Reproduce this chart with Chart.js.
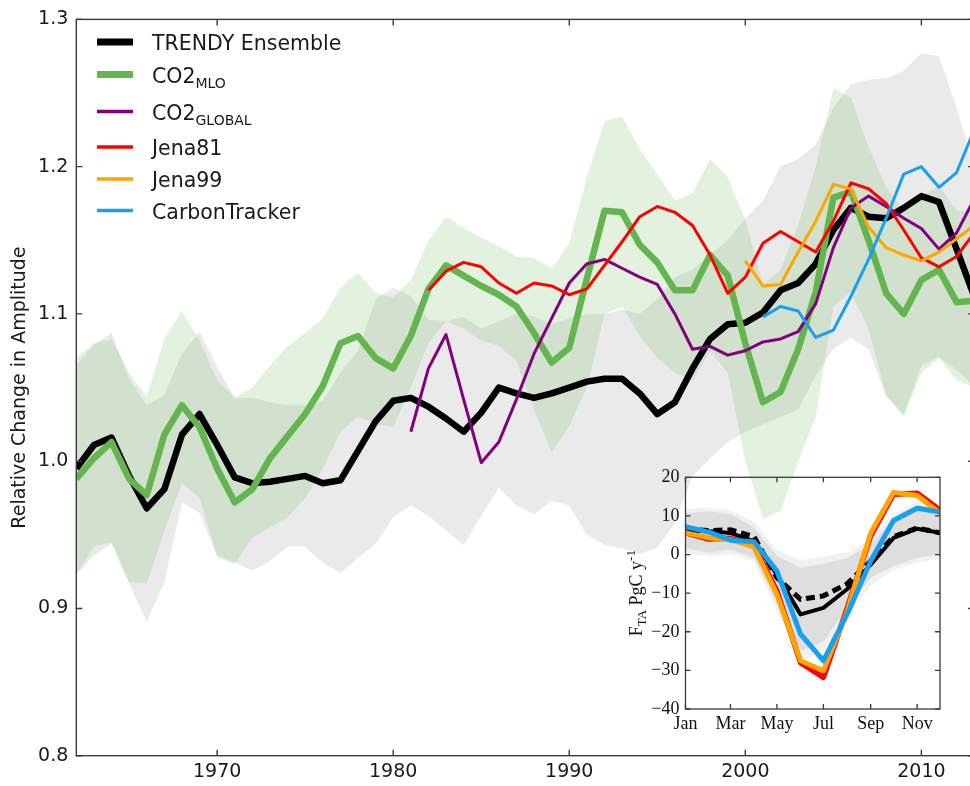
<!DOCTYPE html>
<html>
<head>
<meta charset="utf-8">
<script src="https://cdn.jsdelivr.net/npm/chart.js@4.4.1/dist/chart.umd.min.js"></script>
<style>
  html, body { margin: 0; padding: 0; background: #fff; overflow: hidden; width: 970px; height: 786px; }
  #main { position: absolute; left: 0; top: 0; }
  #inset { position: absolute; left: 600px; top: 455px; }
</style>
</head>
<body>
<canvas id="main" width="980" height="786"></canvas>
<canvas id="inset" width="360" height="300"></canvas>
<script>
// ---------------- Annual amplitude series ----------------
const years = [1962,1963,1964,1965,1966,1967,1968,1969,1970,1971,1972,1973,1974,1975,1976,1977,1978,1979,1980,1981,
  1982,1983,1984,1985,1986,1987,1988,1989,1990,1991,1992,1993,1994,1995,1996,1997,1998,1999,2000,2001,
  2002,2003,2004,2005,2006,2007,2008,2009,2010,2011,2012,2013];

const trendy = [0.995,1.011,1.016,0.990,0.968,0.981,1.018,1.032,1.011,0.989,0.985,0.986,0.988,0.990,0.985,0.987,1.007,1.027,1.041,1.043,
  1.037,1.029,1.020,1.033,1.050,1.046,1.043,1.046,1.050,1.054,1.056,1.056,1.046,1.032,1.040,1.063,1.083,1.093,1.094,1.101,
  1.116,1.121,1.134,1.157,1.172,1.166,1.165,1.172,1.180,1.176,1.144,1.112];
const trendyHigh = [1.065,1.079,1.087,1.056,1.038,1.045,1.073,1.088,1.064,1.043,1.043,1.040,1.038,1.038,1.041,1.060,1.075,1.110,1.118,1.112,
  1.096,1.095,1.098,1.090,1.095,1.100,1.098,1.093,1.097,1.100,1.100,1.103,1.100,1.110,1.125,1.130,1.140,1.150,1.165,1.177,
  1.200,1.205,1.215,1.240,1.256,1.259,1.260,1.265,1.277,1.275,1.240,1.200];
const trendyLow = [0.923,0.936,0.944,0.917,0.891,0.918,0.972,0.965,0.936,0.931,0.926,0.932,0.942,0.942,0.931,0.924,0.934,0.944,0.962,0.970,
  0.963,0.953,0.943,0.963,0.982,0.970,0.964,0.973,0.970,0.950,0.943,0.941,0.937,0.941,0.958,0.990,1.002,1.013,1.020,1.025,
  1.030,1.035,1.058,1.076,1.084,1.076,1.044,1.032,1.065,1.071,1.062,1.051];

const co2Mlo = [0.988,1.002,1.013,0.988,0.977,1.018,1.038,1.023,0.995,0.972,0.981,1.002,1.017,1.032,1.051,1.080,1.085,1.070,1.063,1.085,
  1.117,1.133,1.126,1.119,1.113,1.105,1.087,1.067,1.077,1.124,1.170,1.169,1.147,1.135,1.116,1.116,1.140,1.126,1.080,1.040,
  1.047,1.076,1.115,1.179,1.183,1.150,1.114,1.100,1.123,1.130,1.108,1.109];
const co2MloHigh = [1.070,1.080,1.083,1.060,1.044,1.083,1.102,1.082,1.055,1.043,1.050,1.065,1.078,1.087,1.097,1.118,1.128,1.114,1.111,1.123,
  1.150,1.166,1.158,1.152,1.146,1.139,1.138,1.131,1.148,1.193,1.231,1.234,1.212,1.195,1.177,1.182,1.205,1.193,1.164,1.120,
  1.130,1.160,1.200,1.253,1.247,1.213,1.186,1.170,1.180,1.187,1.170,1.170];
const co2MloLow = [0.923,0.942,0.945,0.918,0.917,0.953,0.985,0.975,0.935,0.930,0.948,0.955,0.962,0.975,0.995,1.020,1.030,1.025,1.023,1.050,
  1.080,1.095,1.090,1.082,1.078,1.068,1.035,1.006,1.024,1.050,1.100,1.105,1.085,1.070,1.060,1.055,1.075,1.060,1.000,0.961,
  0.966,1.000,1.030,1.105,1.115,1.090,1.045,1.030,1.060,1.070,1.055,1.050];

const globalYears = [1981,1982,1983,1984,1985,1986,1987,1988,1989,1990,1991,1992,1993,1994,1995,1996,1997,1998,1999,2000,
  2001,2002,2003,2004,2005,2006,2007,2008,2009,2010,2011,2012,2013];
const co2Global = [1.020,1.063,1.086,1.042,0.999,1.013,1.042,1.073,1.097,1.121,1.134,1.137,1.131,1.125,1.120,1.100,1.076,1.078,1.072,1.075,
  1.081,1.083,1.088,1.107,1.145,1.172,1.180,1.173,1.165,1.158,1.144,1.155,1.178];

const jena81Years = [1982,1983,1984,1985,1986,1987,1988,1989,1990,1991,1992,1993,1994,1995,1996,1997,1998,1999,2000,2001,
  2002,2003,2004,2005,2006,2007,2008,2009,2010,2011,2012,2013];
const jena81 = [1.116,1.129,1.135,1.132,1.121,1.114,1.121,1.119,1.113,1.117,1.133,1.149,1.166,1.173,1.169,1.160,1.140,1.114,1.125,1.148,
  1.156,1.149,1.142,1.163,1.189,1.185,1.175,1.157,1.138,1.132,1.139,1.155];

const jena99Years = [2000,2001,2002,2003,2004,2005,2006,2007,2008,2009,2010,2011,2012,2013];
const jena99 = [1.136,1.119,1.120,1.142,1.163,1.188,1.185,1.159,1.145,1.140,1.136,1.142,1.151,1.160];

const ctYears = [2001,2002,2003,2004,2005,2006,2007,2008,2009,2010,2011,2012,2013];
const carbonTracker = [1.098,1.105,1.102,1.084,1.089,1.112,1.137,1.165,1.195,1.200,1.186,1.196,1.225];

const yearTicks = [1970, 1980, 1990, 2000, 2010];
const amplitudeTicks = [0.8, 0.9, 1.0, 1.1, 1.2, 1.3];

// Legend entries: label, subscript
const legendLabels = ['TRENDY Ensemble', 'CO2', 'CO2', 'Jena81', 'Jena99', 'CarbonTracker'];
const legendSubs = ['', 'MLO', 'GLOBAL', '', '', ''];

// ---------------- Monthly flux inset ----------------
const monthDays = [0, 31, 59, 90, 120, 151, 181, 212, 243, 273, 304, 334];
const monthTickDays = [0, 59, 120, 181, 243, 304];
const monthTickLabels = ['Jan', 'Mar', 'May', 'Jul', 'Sep', 'Nov'];
const fluxTicks = [-40, -30, -20, -10, 0, 10, 20];

const fluxTrendy = [6.2, 6.0, 5.6, 3.4, -5.2, -15.5, -13.8, -9.0, -2.6, 4.3, 6.7, 5.6];
const fluxTrendyAlt = [6.6, 6.2, 6.4, 4.6, -6.0, -11.6, -10.7, -7.6, -1.7, 4.6, 6.9, 5.6];
const fluxJena81 = [5.6, 4.0, 4.2, 2.2, -9.5, -28.0, -31.8, -14.0, 4.8, 15.6, 15.9, 11.5];
const fluxJena99 = [5.6, 4.3, 3.9, 1.9, -10.3, -27.5, -30.1, -14.8, 5.6, 16.1, 15.3, 10.7];
const fluxCT = [7.2, 5.8, 3.7, 3.3, -4.3, -20.6, -27.5, -15.5, -1.7, 8.8, 12.0, 11.0];
const fluxSpreadHigh = [10.7, 11.2, 10.5, 7.0, -0.4, -3.4, -2.4, -0.9, 2.6, 9.4, 12.9, 11.6];
const fluxSpreadLow = [1.7, 0.4, 1.3, -0.9, -12.9, -25.0, -22.5, -14.0, -6.0, -3.0, -0.9, 0.0];
const fluxRangeHigh = [11.8, 12.2, 11.4, 8.5, 1.2, -1.5, -0.5, 0.5, 3.8, 10.4, 13.6, 12.6];
const fluxRangeLow = [0.4, -0.6, 0.2, -1.8, -14.5, -28.0, -25.0, -16.5, -8.0, -4.0, -2.0, -1.0];

// ---------------- helpers ----------------
const pts = (xs, ys) => xs.map((x, i) => ({ x: x, y: ys[i] }));

const line = (label, xs, ys, color, width, order, extra) => Object.assign({
  label: label, data: pts(xs, ys), borderColor: color, borderWidth: width,
  pointRadius: 0, fill: false, tension: 0, order: order, borderJoinStyle: 'round', borderCapStyle: 'butt'
}, extra || {});

const bandEdge = (label, xs, ys, fillColor, order, fillTarget) => ({
  label: label, data: pts(xs, ys), borderWidth: 0, borderColor: 'rgba(0,0,0,0)',
  backgroundColor: fillColor, pointRadius: 0, tension: 0, order: order, fill: fillTarget
});

// Axes box with inward tick marks on all four sides
const framePlugin = {
  id: 'frame',
  afterDatasetsDraw(chart, args, opts) {
    const { ctx, chartArea: a, scales } = chart;
    ctx.save();
    ctx.strokeStyle = opts.color;
    ctx.lineWidth = opts.width;
    ctx.strokeRect(a.left, a.top, a.right - a.left, a.bottom - a.top);
    ctx.beginPath();
    scales.x.ticks.forEach(t => {
      const px = scales.x.getPixelForValue(t.value);
      ctx.moveTo(px, a.bottom); ctx.lineTo(px, a.bottom - opts.len);
      ctx.moveTo(px, a.top); ctx.lineTo(px, a.top + opts.len);
    });
    scales.y.ticks.forEach(t => {
      const py = scales.y.getPixelForValue(t.value);
      ctx.moveTo(a.left, py); ctx.lineTo(a.left + opts.len, py);
      ctx.moveTo(a.right, py); ctx.lineTo(a.right - opts.len, py);
    });
    ctx.stroke();
    ctx.restore();
  }
};

// Legend with subscripted labels, upper left, no frame
const legendColors = ['#000000', '#64b450', '#800080', '#ff0000', '#ffa500', '#18a0f0'];
const legendWidths = [7, 7, 3.5, 3.5, 3.5, 3.5];
const legendPlugin = {
  id: 'subLegend',
  afterDraw(chart) {
    const ctx = chart.ctx;
    const rowY = [42, 74.5, 111.5, 147, 179, 210.5];
    ctx.save();
    legendLabels.forEach((lab, i) => {
      const y = rowY[i];
      ctx.strokeStyle = legendColors[i];
      ctx.lineWidth = legendWidths[i];
      ctx.lineCap = 'butt';
      ctx.beginPath();
      ctx.moveTo(97, y); ctx.lineTo(133, y);
      ctx.stroke();
      ctx.fillStyle = '#1a1a1a';
      ctx.textBaseline = 'alphabetic';
      ctx.textAlign = 'left';
      ctx.font = '20.5px "DejaVu Sans"';
      ctx.fillText(lab, 152, y + 8);
      if (legendSubs[i]) {
        const w = ctx.measureText(lab).width;
        ctx.font = '14px "DejaVu Sans"';
        ctx.fillText(legendSubs[i], 152 + w, y + 13.5);
      }
    });
    ctx.restore();
  }
};

// ---------------- main chart ----------------
const gray = 'rgba(200,200,200,0.38)';
const green = 'rgba(100,180,80,0.18)';

new Chart(document.getElementById('main'), {
  type: 'line',
  data: {
    datasets: [
      bandEdge('TRENDY low', years, trendyLow, gray, 20, false),
      bandEdge('TRENDY high', years, trendyHigh, gray, 20, 0),
      bandEdge('MLO low', years, co2MloLow, green, 15, false),
      bandEdge('MLO high', years, co2MloHigh, green, 15, 2),
      line('TRENDY Ensemble', years, trendy, '#000000', 6.5, 6),
      line('CO2 MLO', years, co2Mlo, '#64b450', 6.5, 5),
      line('CO2 GLOBAL', globalYears, co2Global, '#800080', 3, 4),
      line('Jena81', jena81Years, jena81, '#ff0000', 3, 3),
      line('Jena99', jena99Years, jena99, '#ffa500', 3, 2),
      line('CarbonTracker', ctYears, carbonTracker, '#18a0f0', 3, 1)
    ]
  },
  options: {
    responsive: false,
    animation: false,
    devicePixelRatio: 1,
    layout: { padding: { top: 14.7, right: 5.8, left: 0, bottom: 0 } },
    plugins: {
      legend: { display: false },
      tooltip: { enabled: false },
      frame: { color: '#3a3a3a', width: 1.4, len: 6 }
    },
    scales: {
      x: {
        type: 'linear', min: 1962, max: 2013,
        grid: { display: false, drawTicks: false },
        border: { display: false },
        afterBuildTicks: s => { s.ticks = yearTicks.map(v => ({ value: v })); },
        afterFit: s => { s.height = 30.3; },
        ticks: { padding: 5, color: '#1a1a1a', font: { family: 'DejaVu Sans', size: 19 }, maxRotation: 0, callback: v => String(v) }
      },
      y: {
        type: 'linear', min: 0.8, max: 1.3,
        grid: { display: false, drawTicks: false },
        border: { display: false },
        afterBuildTicks: s => { s.ticks = amplitudeTicks.map(v => ({ value: v })); },
        afterFit: s => { s.width = 76.3; },
        ticks: { padding: 8, color: '#1a1a1a', font: { family: 'DejaVu Sans', size: 19 }, callback: v => Number(v).toFixed(1) },
        title: { display: true, text: 'Relative Change in Amplitude', color: '#1a1a1a',
                 font: { family: 'DejaVu Sans', size: 19 }, padding: { top: 8.6, bottom: 0 } }
      }
    }
  },
  plugins: [framePlugin, legendPlugin]
});

// ---------------- inset chart ----------------
const insetTitlePlugin = {
  id: 'insetTitle',
  afterDraw(chart) {
    const { ctx, chartArea: a } = chart;
    const parts = [
      { t: 'F', size: 18, dy: 0 },
      { t: 'TA', size: 13, dy: 4.5 },
      { t: ' PgC y', size: 18, dy: 0 },
      { t: '-1', size: 13, dy: -7 }
    ];
    ctx.save();
    let total = 0;
    parts.forEach(p => { ctx.font = p.size + 'px "Liberation Serif"'; p.w = ctx.measureText(p.t).width; total += p.w; });
    ctx.translate(41.5, (a.top + a.bottom) / 2);
    ctx.rotate(-Math.PI / 2);
    ctx.fillStyle = '#111';
    ctx.textBaseline = 'alphabetic';
    let x = -total / 2;
    parts.forEach(p => {
      ctx.font = p.size + 'px "Liberation Serif"';
      ctx.fillText(p.t, x, p.dy);
      x += p.w;
    });
    ctx.restore();
  }
};

const lightBand = 'rgba(200,200,200,0.25)';
const darkBand = 'rgba(195,195,195,0.42)';

new Chart(document.getElementById('inset'), {
  type: 'line',
  data: {
    datasets: [
      bandEdge('range low', monthDays, fluxRangeLow, lightBand, 20, false),
      bandEdge('range high', monthDays, fluxRangeHigh, lightBand, 20, 0),
      bandEdge('spread low', monthDays, fluxSpreadLow, darkBand, 15, false),
      bandEdge('spread high', monthDays, fluxSpreadHigh, darkBand, 15, 2),
      line('TRENDY alt', monthDays, fluxTrendyAlt, '#000000', 5, 7, { borderDash: [9, 5], borderJoinStyle: 'miter' }),
      line('TRENDY', monthDays, fluxTrendy, '#000000', 4, 6),
      line('Jena81', monthDays, fluxJena81, '#ff0000', 5.5, 3),
      line('Jena99', monthDays, fluxJena99, '#ffa500', 5, 2),
      line('CarbonTracker', monthDays, fluxCT, '#18a0f0', 5, 1)
    ]
  },
  options: {
    responsive: false,
    animation: false,
    devicePixelRatio: 1,
    layout: { padding: { top: 22.3, right: 20, left: 0, bottom: 0 } },
    plugins: {
      legend: { display: false },
      tooltip: { enabled: false },
      frame: { color: '#3a3a3a', width: 1.3, len: 5 }
    },
    scales: {
      x: {
        type: 'linear', min: 0, max: 334,
        grid: { display: false, drawTicks: false },
        border: { display: false },
        afterBuildTicks: s => { s.ticks = monthTickDays.map(v => ({ value: v })); },
        afterFit: s => { s.height = 46; },
        ticks: { padding: 4, color: '#111', font: { family: 'Liberation Serif', size: 18 }, maxRotation: 0,
                 callback: v => monthTickLabels[monthTickDays.indexOf(v)] }
      },
      y: {
        type: 'linear', min: -40, max: 20,
        grid: { display: false, drawTicks: false },
        border: { display: false },
        afterBuildTicks: s => { s.ticks = fluxTicks.map(v => ({ value: v })); },
        afterFit: s => { s.width = 85.5; },
        ticks: { padding: 6, color: '#111', font: { family: 'Liberation Serif', size: 18 },
                 callback: v => (v < 0 ? '\u2212' + Math.abs(v) : String(v)) }
      }
    }
  },
  plugins: [framePlugin, insetTitlePlugin]
});
</script>
</body>
</html>
